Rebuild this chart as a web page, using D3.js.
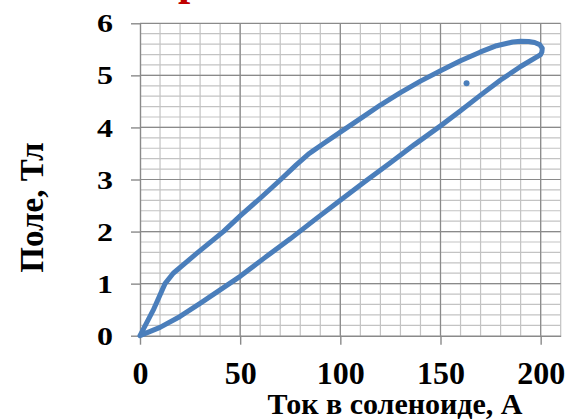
<!DOCTYPE html>
<html>
<head>
<meta charset="utf-8">
<script src="https://cdn.jsdelivr.net/npm/d3@7/dist/d3.min.js"></script>
<style>
  html, body { margin: 0; padding: 0; background: #ffffff; }
  svg { display: block; }
  text { font-family: "Liberation Serif", "Times New Roman", serif; font-weight: bold; fill: #000; }
</style>
</head>
<body>
<svg id="chart" width="567" height="419"></svg>
<script>
// Hysteresis loop: field vs solenoid current (ramp up along the lower branch, back down along the upper one)
const currentA = [0, 3, 10, 20, 30, 40, 50, 62, 75, 87, 100, 112, 125, 137, 150, 160, 170, 180, 190, 200,
                  200.6, 200.8, 199.5, 197, 194, 190, 186, 178, 170, 160, 150, 140, 130, 120, 110, 100, 92, 86, 84.5, 78, 70, 60, 50, 41.6, 28.3, 16.6, 12.5, 6.6, 0];
const fieldT   = [0, 0.05, 0.16, 0.37, 0.62, 0.88, 1.14, 1.49, 1.86, 2.22, 2.60, 2.95, 3.32, 3.67, 4.03, 4.32, 4.62, 4.91, 5.17, 5.40,
                  5.45, 5.52, 5.59, 5.63, 5.65, 5.655, 5.64, 5.57, 5.45, 5.28, 5.09, 4.89, 4.67, 4.43, 4.17, 3.91, 3.70, 3.54, 3.50, 3.28, 2.99, 2.64, 2.30, 2.00, 1.58, 1.20, 1.00, 0.49, 0];

// Single stray measurement
const strayCurrent = [163];
const strayField = [4.85];

// Axis tick labels
const xTickValues = [0, 50, 100, 150, 200];
const yTickValues = [0, 1, 2, 3, 4, 5, 6];

const svg = d3.select("#chart");

const x = d3.scaleLinear().domain([0, 210]).range([140, 560.7]);
const y = d3.scaleLinear().domain([0, 6]).range([335.7, 23.3]);

const minorColor = "#c3c3c3";
const majorColor = "#8a8a8a";

// Minor grid
const grid = svg.append("g");
grid.selectAll("line.vminor")
  .data(d3.range(10, 211, 10))
  .join("line")
  .attr("x1", d => x(d)).attr("x2", d => x(d))
  .attr("y1", y(0)).attr("y2", y(6))
  .attr("stroke", minorColor).attr("stroke-width", 1.2);
grid.selectAll("line.hminor")
  .data(d3.range(1, 30).map(i => i * 0.2))
  .join("line")
  .attr("x1", x(0)).attr("x2", x(210))
  .attr("y1", d => y(d)).attr("y2", d => y(d))
  .attr("stroke", minorColor).attr("stroke-width", 1.2);

// Major grid
grid.selectAll("line.vmajor")
  .data(xTickValues.filter(d => d > 0))
  .join("line")
  .attr("x1", d => x(d)).attr("x2", d => x(d))
  .attr("y1", y(0)).attr("y2", y(6))
  .attr("stroke", majorColor).attr("stroke-width", 1.2);
grid.selectAll("line.hmajor")
  .data(yTickValues.filter(d => d > 0))
  .join("line")
  .attr("x1", x(0)).attr("x2", x(210))
  .attr("y1", d => y(d)).attr("y2", d => y(d))
  .attr("stroke", majorColor).attr("stroke-width", 1.2);

// Axes
const xAxis = svg.append("g")
  .attr("transform", `translate(0,${y(0)})`)
  .call(d3.axisBottom(x).tickValues(xTickValues).tickFormat(d3.format("d"))
        .tickSize(9).tickPadding(17).tickSizeOuter(0));
xAxis.selectAll("path, line").attr("stroke", majorColor).attr("stroke-width", 1.4);
xAxis.selectAll("text").attr("font-size", 32).attr("font-family", null).style("fill", "#000");

const yAxis = svg.append("g")
  .attr("transform", `translate(${x(0)},0)`)
  .call(d3.axisLeft(y).tickValues(yTickValues).tickFormat(d3.format("d"))
        .tickSize(9).tickPadding(18).tickSizeOuter(0));
yAxis.selectAll("path, line").attr("stroke", majorColor).attr("stroke-width", 1.4);
yAxis.selectAll("text")
  .attr("font-size", 32).attr("font-family", null)
  .attr("dy", "0.34em")
  .attr("transform", "scale(1,0.79)")
  .style("fill", "#000");

// Loop curve
const pts = currentA.map((c, i) => [c, fieldT[i]]);
svg.append("path")
  .datum(pts)
  .attr("d", d3.line().x(d => x(d[0])).y(d => y(d[1])))
  .attr("fill", "none")
  .attr("stroke", "#4a7ebb")
  .attr("stroke-width", 5)
  .attr("stroke-linejoin", "round")
  .attr("stroke-linecap", "round");

svg.selectAll("circle.stray")
  .data(strayCurrent.map((c, i) => [c, strayField[i]]))
  .join("circle")
  .attr("cx", d => x(d[0])).attr("cy", d => y(d[1]))
  .attr("r", 3)
  .attr("fill", "#4a7ebb");

// Axis titles
svg.append("text")
  .attr("x", 395).attr("y", 414)
  .attr("text-anchor", "middle")
  .attr("font-size", 30)
  .text("Ток в соленоиде, А");

svg.append("text")
  .attr("transform", "translate(43,207.5) rotate(-90)")
  .attr("text-anchor", "middle")
  .attr("font-size", 33)
  .text("Поле, Тл");

// Heading (mostly above the visible area)
svg.append("text")
  .attr("x", 178).attr("y", -5.5)
  .attr("font-size", 44)
  .style("fill", "#c00000")
  .text("р");
</script>
</body>
</html>
